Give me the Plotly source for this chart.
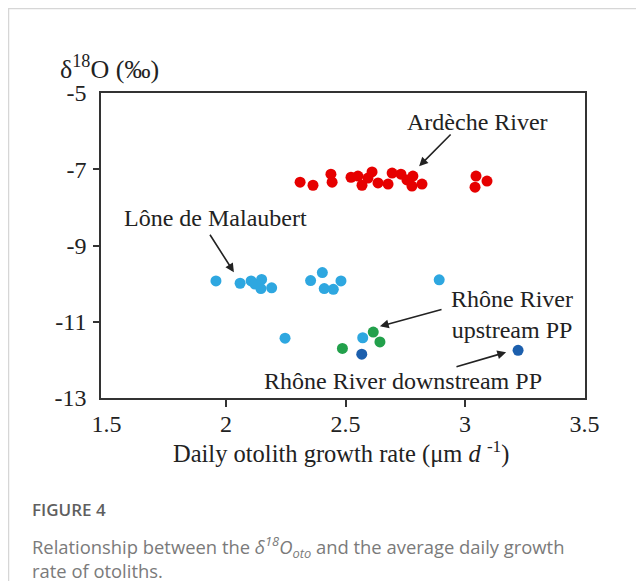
import plotly.graph_objects as go

# ---- data ----
ardeche_x = [2.310, 2.364, 2.439, 2.444, 2.523, 2.552, 2.569, 2.594, 2.611, 2.636,
             2.678, 2.695, 2.732, 2.757, 2.782, 2.778, 2.820, 3.046, 3.042, 3.092]
ardeche_y = [-7.34, -7.42, -7.13, -7.34, -7.21, -7.18, -7.42, -7.23, -7.07, -7.36,
             -7.39, -7.10, -7.13, -7.28, -7.18, -7.44, -7.39, -7.18, -7.47, -7.31]

lone_x = [1.958, 2.059, 2.105, 2.121, 2.149, 2.146, 2.191, 2.354, 2.403, 2.411,
          2.449, 2.481, 2.892, 2.247, 2.572]
lone_y = [-9.93, -9.99, -9.93, -10.01, -9.89, -10.13, -10.11, -9.92, -9.71, -10.13,
          -10.15, -9.93, -9.90, -11.43, -11.42]

up_x = [2.616, 2.644, 2.487]
up_y = [-11.27, -11.53, -11.70]

down_x = [2.568, 3.222]
down_y = [-11.85, -11.75]

x_ticks = [1.5, 2, 2.5, 3, 3.5]
x_labels = ["1.5", "2", "2.5", "3", "3.5"]
y_ticks = [-5, -7, -9, -11, -13]
y_labels = ["-5", "-7", "-9", "-11", "-13"]

SERIF = "Liberation Serif, Times New Roman, serif"
SANS = "Open Sans, Lato, sans-serif"
AX = "#333333"
TXT = "#222222"
FS = 24

fig = go.Figure()
for xs, ys, col, name in [
    (ardeche_x, ardeche_y, "#E60000", "Ardèche River"),
    (lone_x, lone_y, "#2EA7E0", "Lône de Malaubert"),
    (up_x, up_y, "#22A04B", "Rhône River upstream PP"),
    (down_x, down_y, "#1C5FAD", "Rhône River downstream PP"),
]:
    fig.add_trace(go.Scatter(x=xs, y=ys, mode="markers", name=name,
                             marker=dict(size=11, color=col, line=dict(width=0))))

# the page body has an 8px margin, so the figure is 8px smaller; plot area = page 101..585 x 93..398
fig.update_layout(
    width=636, height=573,
    margin=dict(l=93, r=59, t=85, b=183),
    paper_bgcolor="white", plot_bgcolor="white",
    showlegend=False,
    font=dict(family=SERIF, size=FS, color=TXT),
)
fig.update_xaxes(
    range=[1.477, 3.502], showgrid=False, zeroline=False,
    showline=True, linecolor=AX, linewidth=1.5, mirror=True,
    tickvals=x_ticks, ticktext=x_labels, ticks="",
    ticklabelstandoff=3,
    minor=dict(tickvals=[2, 2.5, 3], ticks="outside", ticklen=7, tickwidth=1.5, tickcolor=AX, showgrid=False),
    tickfont=dict(family=SERIF, size=FS, color=TXT),
)
fig.update_yaxes(
    range=[-13, -5], showgrid=False, zeroline=False,
    showline=True, linecolor=AX, linewidth=1.5, mirror=True,
    tickvals=y_ticks, ticktext=y_labels, ticks="",
    ticklabelstandoff=8,
    minor=dict(tickvals=[-7, -9, -11], ticks="outside", ticklen=6, tickwidth=1.5, tickcolor=AX, showgrid=False),
    tickfont=dict(family=SERIF, size=FS, color=TXT),
)

# axis titles
fig.add_annotation(xref="paper", yref="paper", x=0.496, y=-(452 - 398) / 305,
                   xanchor="center", yanchor="middle", showarrow=False,
                   text="Daily otolith growth rate (μm <i>d</i> <sup>-1</sup>)",
                   font=dict(family=SERIF, size=24.5, color=TXT))
fig.add_annotation(xref="paper", yref="paper", x=-0.088, y=1.085, xanchor="left", yanchor="middle",
                   text="δ<sup>18</sup>O (‰)", showarrow=False,
                   font=dict(family=SERIF, size=26, color=TXT))

# labels with arrows
arrow = dict(showarrow=True, arrowhead=2, arrowsize=1.1, arrowwidth=1.6, arrowcolor=TXT,
             axref="x", ayref="y")
fig.add_annotation(x=2.808, y=-6.92, ax=2.946, ay=-6.05, text="", **arrow)
fig.add_annotation(x=2.033, y=-9.70, ax=1.929, ay=-8.68, text="", **arrow)
fig.add_annotation(x=2.644, y=-11.12, ax=2.908, ay=-10.67, text="", **arrow)
fig.add_annotation(x=3.172, y=-11.80, ax=2.958, ay=-12.19, text="", **arrow)

lab = dict(showarrow=False, font=dict(family=SERIF, size=FS, color=TXT))
fig.add_annotation(x=3.054, y=-5.76, text="Ardèche River", **lab)
fig.add_annotation(x=1.954, y=-8.28, text="Lône de Malaubert", **lab)
fig.add_annotation(x=3.197, y=-10.80, text="Rhône River<br>upstream PP", align="center", **lab)
fig.add_annotation(x=2.741, y=-12.56, text="Rhône River downstream PP", **lab)

# caption (page positions converted to paper coords of the plot area)
cap = dict(showarrow=False, xref="paper", yref="paper", xanchor="left", yanchor="middle", align="left")
cx = (30 - 101) / 484
fig.add_annotation(x=cx, y=(398 - 510) / 305, text="FIGURE 4",
                   font=dict(family=SANS, size=17, color="#5f5f5f", weight=600), **cap)
fig.add_annotation(x=cx, y=(398 - 557) / 305,
                   text="Relationship between the <i>δ<sup>18</sup>O<sub>oto</sub></i> and the average daily growth"
                        "<br>rate of otoliths.",
                   font=dict(family=SANS, size=18.4, color="#7a7a7a"), **cap)

# outer light frame (card border)
fig.add_shape(type="rect", xref="paper", yref="paper",
              x0=(8.5 - 101) / 484, x1=1.3, y0=-0.8, y1=(398 - 8.5) / 305,
              line=dict(color="#d6d6d6", width=1.5), fillcolor="rgba(0,0,0,0)", layer="below")

fig.write_html("out.html")
